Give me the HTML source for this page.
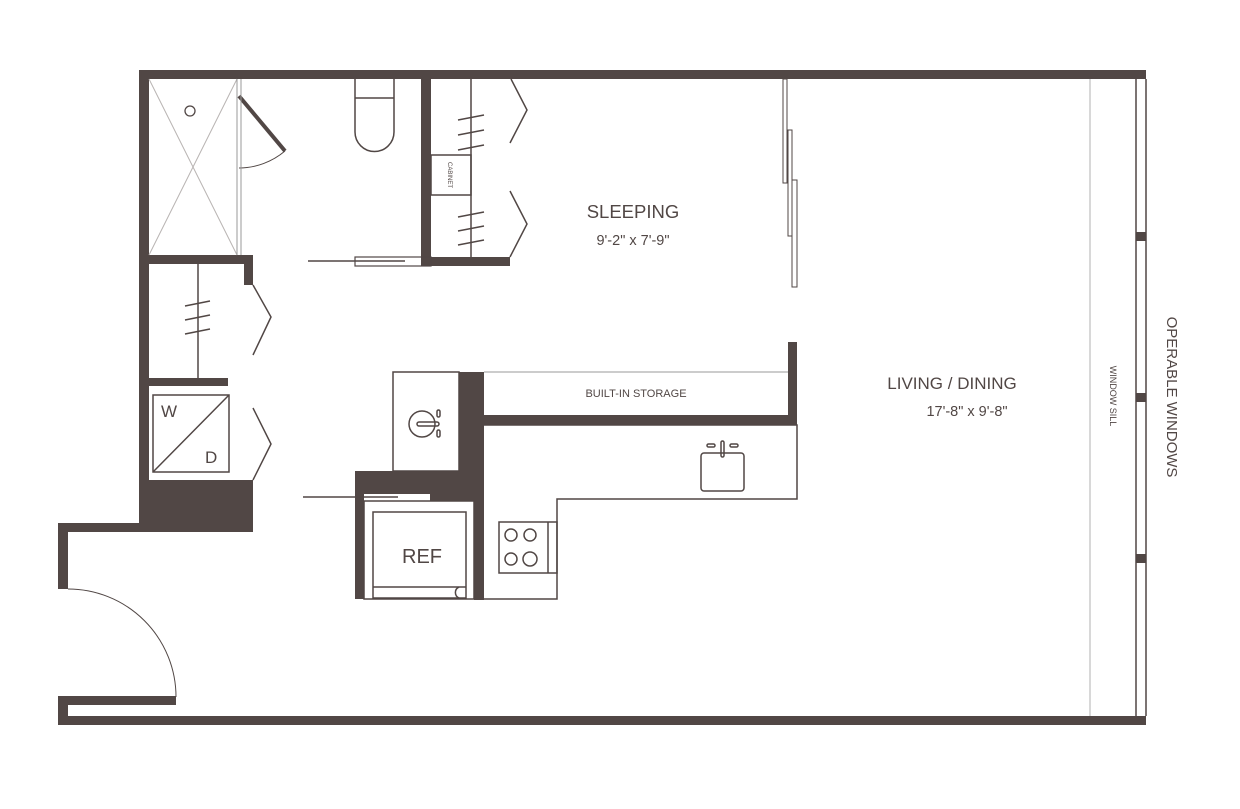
<!DOCTYPE html>
<html><head><meta charset="utf-8"><style>
html,body{margin:0;padding:0;background:#fff;}
svg{display:block;}
text{font-family:"Liberation Sans",sans-serif;fill:#514745;}
</style></head><body>
<svg width="1240" height="809" viewBox="0 0 1240 809" xmlns="http://www.w3.org/2000/svg">
<g fill="#514745" stroke="none">
<rect x="139" y="70" width="1007" height="9"/>
<rect x="139" y="70" width="10" height="462"/>
<rect x="58" y="523" width="91" height="9"/>
<rect x="58" y="523" width="10" height="66"/>
<rect x="58" y="696" width="10" height="29"/>
<rect x="58" y="696" width="118" height="9"/>
<rect x="58" y="716" width="1088" height="9"/>
<rect x="139" y="480" width="114" height="52"/>
<rect x="149" y="255" width="104" height="9"/>
<rect x="244" y="255" width="9" height="30"/>
<rect x="421" y="79" width="10" height="187"/>
<rect x="431" y="257" width="79" height="9"/>
<rect x="149" y="378" width="79" height="8"/>
<rect x="459" y="372" width="25" height="129"/>
<rect x="474" y="372" width="10" height="228"/>
<rect x="355" y="471" width="129" height="23"/>
<rect x="430" y="493" width="54" height="8"/>
<rect x="355" y="471" width="9" height="128"/>
<rect x="484" y="415" width="313" height="10"/>
<rect x="788" y="342" width="9" height="83"/>
<rect x="1136" y="232" width="10" height="9"/>
<rect x="1136" y="393" width="10" height="9"/>
<rect x="1136" y="554" width="10" height="9"/>
</g>
<g fill="none" stroke="#514745" stroke-width="1.5">
<line x1="1136" y1="79" x2="1136" y2="716"/>
<line x1="1146" y1="79" x2="1146" y2="716"/>
<path d="M355 79 V98 H394 V79 M355 98 V132 A19.5 19.5 0 0 0 394 132 V98"/>
<rect x="355" y="257" width="76" height="9" stroke-width="1.2"/>
<line x1="308" y1="261" x2="405" y2="261"/>
<line x1="471" y1="79" x2="471" y2="257"/>
<rect x="431" y="155" width="40" height="40"/>
<path d="M458 120 L484 115 M458 135 L484 130 M458 150 L484 145 M458 217 L484 212 M458 231 L484 226 M458 245 L484 240"/>
<path d="M511 79 L527 110 L510 143 M510 191 L527 224 L510 257"/>
<line x1="198" y1="264" x2="198" y2="378"/>
<path d="M185 306 L210 301 M185 320 L210 315 M185 334 L210 329"/>
<path d="M253 285 L271 317 L253 355 M253 408 L271 444 L253 480"/>
<rect x="153" y="395" width="76" height="77"/>
<line x1="153" y1="472" x2="229" y2="395"/>
<rect x="393" y="372" width="66" height="99"/>
<circle cx="422" cy="424" r="13"/>
<rect x="417" y="422" width="22" height="4" rx="2"/>
<rect x="437" y="410" width="3" height="7" rx="1.5"/>
<rect x="437" y="430" width="3" height="7" rx="1.5"/>
<rect x="364" y="501" width="110" height="98"/>
<rect x="373" y="512" width="93" height="86"/>
<line x1="373" y1="587" x2="466" y2="587"/>
<path d="M459 587 A6 6 0 0 0 459 598"/>
<line x1="303" y1="497" x2="398" y2="497"/>
<path d="M484 425 H797 V499 H557 V599 H484"/>
<rect x="499" y="522" width="58" height="51"/>
<line x1="548" y1="522" x2="548" y2="573"/>
<circle cx="511" cy="535" r="6"/><circle cx="530" cy="535" r="6"/>
<circle cx="511" cy="559" r="6"/><circle cx="530" cy="559" r="7"/>
<rect x="701" y="453" width="43" height="38" rx="3"/>
<rect x="707" y="444" width="8" height="3" rx="1.5"/>
<rect x="730" y="444" width="8" height="3" rx="1.5"/>
<rect x="721" y="441" width="3" height="16" rx="1.5"/>
<rect x="783" y="79" width="4" height="104" stroke-width="1"/>
<rect x="788" y="130" width="4" height="106" stroke-width="1"/>
<rect x="792" y="180" width="5" height="107" stroke-width="1"/>
<path d="M239 168 A72 72 0 0 0 285 151" stroke-width="1"/>
<line x1="239" y1="96" x2="285" y2="151" stroke-width="4"/>
<path d="M68 589 A108 108 0 0 1 176 697" stroke-width="1"/>
</g>
<g fill="none" stroke="#b8b3b2" stroke-width="1">
<line x1="149" y1="79" x2="237" y2="255"/>
<line x1="237" y1="79" x2="149" y2="255"/>
<line x1="237" y1="79" x2="237" y2="255" stroke="#999"/>
<line x1="241" y1="79" x2="241" y2="255" stroke="#999"/>
<line x1="484" y1="372" x2="788" y2="372" stroke="#999"/>
<line x1="1090" y1="79" x2="1090" y2="716" stroke="#ccc" stroke-width="1.5"/>
</g>
<circle cx="190" cy="111" r="5" fill="none" stroke="#514745" stroke-width="1.3"/>
<text x="633" y="218" font-size="18.5" text-anchor="middle">SLEEPING</text>
<text x="633" y="245" font-size="14.5" text-anchor="middle">9'-2" x 7'-9"</text>
<text x="952" y="389" font-size="17" text-anchor="middle">LIVING / DINING</text>
<text x="967" y="416" font-size="14.5" text-anchor="middle">17'-8" x 9'-8"</text>
<text x="636" y="397" font-size="11" text-anchor="middle">BUILT-IN STORAGE</text>
<text x="422" y="563" font-size="20" text-anchor="middle">REF</text>
<text x="161" y="417" font-size="17">W</text>
<text x="205" y="463" font-size="17">D</text>
<text transform="translate(448,175) rotate(90)" font-size="6" text-anchor="middle">CABINET</text>
<text transform="translate(1110,396) rotate(90)" font-size="9" text-anchor="middle">WINDOW SILL</text>
<text transform="translate(1167,397) rotate(90)" font-size="15" text-anchor="middle">OPERABLE WINDOWS</text>
</svg>
</body></html>
